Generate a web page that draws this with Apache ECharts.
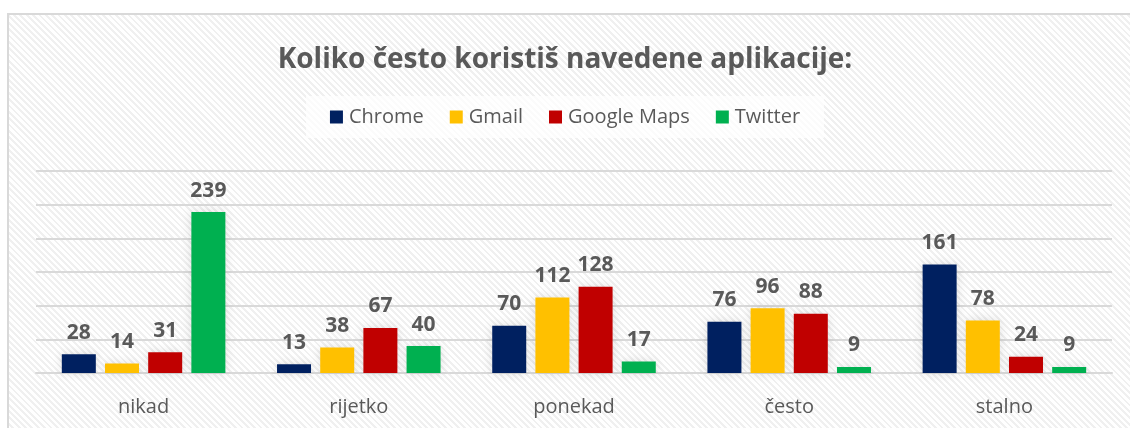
<!DOCTYPE html>
<html>
<head>
<meta charset="utf-8">
<script src="https://cdn.jsdelivr.net/npm/echarts@6/dist/echarts.min.js"></script>
<style>
  html, body { margin: 0; padding: 0; background: #fff; }
  .frame {
    position: absolute;
    left: 7px; top: 13px;
    width: 1130px; height: 420px;
    border-top: 2px solid #d9d9d9;
    border-left: 2px solid #d9d9d9;
    background: repeating-linear-gradient(45deg, #ffffff 0px, #ffffff 2.5px, #f0f0f0 2.5px, #f0f0f0 4.5px);
  }
  #chart { position: absolute; left: 0; top: 0; width: 1130px; height: 428px; }
</style>
</head>
<body>
<div class="frame"></div>
<div id="chart"></div>
<script>
// kategorije i vrijednosti
const categories = ['nikad', 'rijetko', 'ponekad', 'često', 'stalno'];
const chrome = [28, 13, 70, 76, 161];
const gmail = [14, 38, 112, 96, 78];
const googleMaps = [31, 67, 128, 88, 24];
const twitter = [239, 40, 17, 9, 9];

const textColor = '#595959';
const font = '"Open Sans", sans-serif';

const makeSeries = (name, data, color) => ({
  name,
  type: 'bar',
  data,
  barGap: '27%',
  barCategoryGap: '24%',
  itemStyle: { color, shadowBlur: 10, shadowColor: 'rgba(0,0,0,0.12)' },
  label: {
    show: true,
    position: 'top',
    distance: 11,
    color: textColor,
    fontFamily: font,
    fontWeight: 'bold',
    fontSize: 21
  }
});

const chart = echarts.init(document.getElementById('chart'));
chart.setOption({
  backgroundColor: 'transparent',
  animation: false,
  title: {
    text: 'Koliko često koristiš navedene aplikacije:',
    left: 'center',
    top: 41,
    textStyle: { color: textColor, fontFamily: font, fontWeight: 'bold', fontSize: 28 }
  },
  legend: {
    top: 96,
    left: 'center',
    padding: [11, 24],
    backgroundColor: 'rgba(255,255,255,0.75)',
    icon: 'rect',
    itemWidth: 13,
    itemHeight: 13,
    itemGap: 26,
    textStyle: { color: textColor, fontFamily: font, fontSize: 20, padding: [0, 0, 0, 1] }
  },
  grid: { left: 36, right: 18, top: 171, bottom: 55 },
  xAxis: {
    type: 'category',
    data: categories,
    axisTick: { show: false },
    axisLine: { lineStyle: { color: '#d9d9d9', width: 2 } },
    axisLabel: { color: textColor, fontFamily: font, fontSize: 20, margin: 24 }
  },
  yAxis: {
    type: 'value',
    min: 0,
    max: 300,
    interval: 50,
    axisLabel: { show: false },
    axisLine: { show: false },
    axisTick: { show: false },
    splitLine: { lineStyle: { color: '#d9d9d9', width: 2 } }
  },
  series: [
    makeSeries('Chrome', chrome, '#002060'),
    makeSeries('Gmail', gmail, '#FFC000'),
    makeSeries('Google Maps', googleMaps, '#C00000'),
    makeSeries('Twitter', twitter, '#00B050')
  ]
});
</script>
</body>
</html>
